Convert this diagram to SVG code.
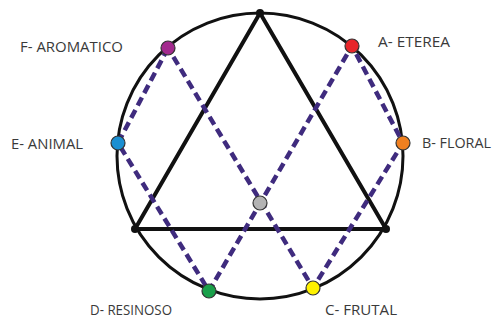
<svg xmlns="http://www.w3.org/2000/svg" width="492" height="320" viewBox="0 0 492 320">
<style>
.lbl{font-family:"Open Sans","Liberation Sans",sans-serif;font-size:14.5px;fill:#3a3a3a}
.tri{fill:none;stroke:#111;stroke-width:4;stroke-linejoin:round}
.dash{fill:none;stroke:#3f2b7e;stroke-width:4.5;stroke-dasharray:9 5}
.dot{stroke:#333;stroke-width:1.2}
</style>
<rect width="492" height="320" fill="#fff"/>
<g id="circle"><circle cx="260" cy="156" r="143" fill="none" stroke="#111" stroke-width="3"/></g>
<g id="triangle">
<polygon class="tri" points="260,13 135,229 386,229"/>
<circle cx="260" cy="13" r="4" fill="#111"/>
<circle cx="135" cy="229" r="4" fill="#111"/>
<circle cx="386" cy="229" r="4" fill="#111"/>
</g>
<g id="connectors">
<polygon class="dash" points="168,48 118,143 209,291 352,46 403,143 313,288"/>
</g>
<g id="center"><circle class="dot" cx="260" cy="203" r="7" fill="#b3b3b3"/></g>
<g id="A"><circle class="dot" cx="352" cy="46" r="7" fill="#e8262a"/><text class="lbl" x="378" y="47" textLength="72" lengthAdjust="spacingAndGlyphs">A- ETEREA</text></g>
<g id="B"><circle class="dot" cx="403" cy="143" r="7" fill="#f08020"/><text class="lbl" x="422" y="148" textLength="69" lengthAdjust="spacingAndGlyphs">B- FLORAL</text></g>
<g id="C"><circle class="dot" cx="313" cy="288" r="7" fill="#fff200"/><text class="lbl" x="325" y="315" textLength="72" lengthAdjust="spacingAndGlyphs">C- FRUTAL</text></g>
<g id="D"><circle class="dot" cx="209" cy="291" r="7" fill="#19a04a"/><text class="lbl" x="90" y="315" textLength="82" lengthAdjust="spacingAndGlyphs">D- RESINOSO</text></g>
<g id="E"><circle class="dot" cx="118" cy="143" r="7" fill="#1b8fd2"/><text class="lbl" x="11" y="149" textLength="72" lengthAdjust="spacingAndGlyphs">E- ANIMAL</text></g>
<g id="F"><circle class="dot" cx="168" cy="48" r="7" fill="#a32a8e"/><text class="lbl" x="20" y="52" textLength="103" lengthAdjust="spacingAndGlyphs">F- AROMATICO</text></g>
</svg>
